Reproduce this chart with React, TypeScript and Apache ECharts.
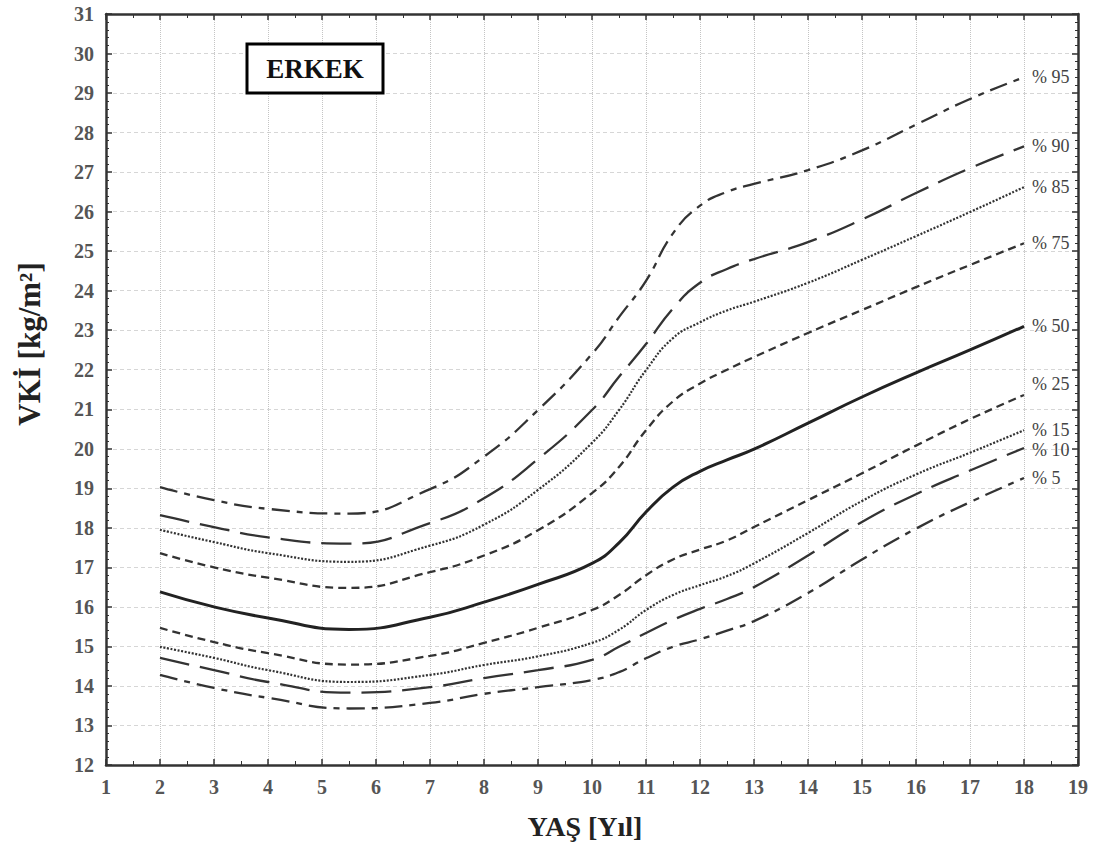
import React, { useEffect, useRef } from "react";
import * as echarts from "echarts";

const ages = [2, 3, 4, 5.5, 7, 8, 9, 10, 10.5, 11, 11.5, 12, 12.5, 13, 14, 15, 16, 17, 18];
const p95 = [19.03, 18.7, 18.48, 18.36, 18.98, 19.8, 20.98, 22.4, 23.33, 24.25, 25.45, 26.15, 26.5, 26.7, 27.05, 27.55, 28.2, 28.85, 29.4];
const p90 = [18.32, 18.02, 17.76, 17.6, 18.12, 18.75, 19.74, 20.98, 21.82, 22.65, 23.55, 24.2, 24.55, 24.8, 25.23, 25.8, 26.47, 27.1, 27.65];
const p85 = [17.95, 17.64, 17.36, 17.14, 17.55, 18.08, 18.96, 20.15, 20.98, 21.99, 22.8, 23.2, 23.5, 23.72, 24.2, 24.78, 25.38, 25.99, 26.62];
const p75 = [17.36, 17.0, 16.74, 16.48, 16.88, 17.3, 17.94, 18.88, 19.54, 20.47, 21.2, 21.65, 22.0, 22.32, 22.93, 23.51, 24.09, 24.65, 25.2];
const p50 = [16.38, 16.0, 15.72, 15.43, 15.74, 16.12, 16.57, 17.1, 17.62, 18.4, 19.03, 19.43, 19.72, 19.99, 20.65, 21.31, 21.92, 22.5, 23.1];
const p25 = [15.47, 15.11, 14.83, 14.54, 14.76, 15.09, 15.47, 15.92, 16.3, 16.8, 17.2, 17.45, 17.68, 18.02, 18.7, 19.38, 20.08, 20.75, 21.36];
const p15 = [14.99, 14.71, 14.4, 14.1, 14.28, 14.53, 14.75, 15.09, 15.42, 15.92, 16.3, 16.55, 16.78, 17.1, 17.87, 18.68, 19.35, 19.9, 20.47];
const p10 = [14.71, 14.4, 14.1, 13.83, 13.97, 14.2, 14.4, 14.66, 14.99, 15.34, 15.67, 15.95, 16.2, 16.5, 17.3, 18.15, 18.85, 19.45, 20.02];
const p5 = [14.28, 13.95, 13.7, 13.43, 13.57, 13.8, 13.97, 14.15, 14.35, 14.7, 14.99, 15.18, 15.4, 15.64, 16.35, 17.2, 17.98, 18.65, 19.26];

const curveNames = ["% 95", "% 90", "% 85", "% 75", "% 50", "% 25", "% 15", "% 10", "% 5"];
const curveValues = [p95, p90, p85, p75, p50, p25, p15, p10, p5];

const xMin = 1, xMax = 19, yMin = 12, yMax = 31;
const FONT = "'Liberation Serif', 'DejaVu Serif', serif";

const dashDot = [18, 7, 6, 7];
const longDash = [30, 11];
const dotted = [2, 1.6];
const shortDash = [8, 5];
const styles: any[] = [
  { type: dashDot, width: 2.3 },
  { type: longDash, width: 2.3 },
  { type: dotted, width: 2.2 },
  { type: shortDash, width: 2.3 },
  { type: "solid", width: 3 },
  { type: shortDash, width: 2.3 },
  { type: dotted, width: 2.2 },
  { type: longDash, width: 2.3 },
  { type: dashDot, width: 2.3 },
];
const labelOffsets: number[][] = [[0, 0], [0, 0], [0, 0], [0, 0], [0, 0], [0, -11], [0, 0], [0, 2], [0, 0]];

export default function App() {
  const ref = useRef<HTMLDivElement>(null);
  useEffect(() => {
    if (!ref.current) return;
    const chart = echarts.init(ref.current, undefined, { renderer: "svg" });
    const axisLineStyle = { color: "#333", width: 2.5 };
    const series = curveValues.map((vals, i) => ({
      name: curveNames[i],
      type: "line",
      xAxisIndex: 0,
      yAxisIndex: 0,
      symbol: "none",
      smooth: 0.5,
      data: ages.map((a, j) => [a, vals[j]]),
      lineStyle: { color: i === 4 ? "#222" : "#333", width: styles[i].width, type: styles[i].type },
      endLabel: {
        show: true,
        formatter: curveNames[i],
        fontFamily: FONT,
        fontSize: 18,
        color: "#444",
        distance: 8,
        offset: labelOffsets[i],
      },
      emphasis: { disabled: true },
    }));
    chart.setOption({
      animation: false,
      backgroundColor: "#fff",
      grid: { left: 106, right: 16, top: 14, bottom: 78, containLabel: false },
      xAxis: [
        {
          type: "value",
          min: xMin,
          max: xMax,
          interval: 1,
          axisLine: { show: true, lineStyle: axisLineStyle },
          axisTick: { show: true, inside: true, length: 6, lineStyle: { color: "#333", width: 1.5 } },
          minorTick: { show: true, splitNumber: 2, length: 4, lineStyle: { color: "#333" } },
          axisLabel: { fontFamily: FONT, fontSize: 20, fontWeight: "bold", color: "#555", margin: 12 },
          splitLine: { show: true, lineStyle: { color: "#c4c4c4", type: "dotted", width: 1 } },
        },
        {
          type: "value",
          position: "top",
          min: xMin,
          max: xMax,
          interval: 1,
          axisLine: { show: true, lineStyle: axisLineStyle },
          axisTick: { show: true, inside: true, length: 6, lineStyle: { color: "#333", width: 1.5 } },
          minorTick: { show: true, splitNumber: 2, length: 4, lineStyle: { color: "#333" } },
          axisLabel: { show: false },
          splitLine: { show: false },
        },
      ],
      yAxis: [
        {
          type: "value",
          min: yMin,
          max: yMax,
          interval: 1,
          axisLine: { show: true, lineStyle: axisLineStyle },
          axisTick: { show: true, inside: true, length: 6, lineStyle: { color: "#333", width: 1.5 } },
          minorTick: { show: true, splitNumber: 5, length: 3, lineStyle: { color: "#333" } },
          axisLabel: { fontFamily: FONT, fontSize: 20, fontWeight: "bold", color: "#555", margin: 12 },
          splitLine: { show: true, lineStyle: { color: "#d6d6d6", type: [4, 3], width: 1 } },
        },
        {
          type: "value",
          position: "right",
          min: yMin,
          max: yMax,
          interval: 1,
          axisLine: { show: true, lineStyle: axisLineStyle },
          axisTick: { show: true, inside: true, length: 6, lineStyle: { color: "#333", width: 1.5 } },
          minorTick: { show: true, splitNumber: 5, length: 3, lineStyle: { color: "#333" } },
          axisLabel: { show: false },
          splitLine: { show: false },
        },
      ],
      series,
      graphic: [
        {
          type: "rect",
          shape: { x: 247, y: 44, width: 136, height: 49 },
          style: { fill: "#fff", stroke: "#000", lineWidth: 3 },
          z: 10,
        },
        {
          type: "text",
          x: 315,
          y: 69,
          style: {
            text: "ERKEK",
            font: `bold 27px ${FONT}`,
            fill: "#111",
            textAlign: "center",
            textVerticalAlign: "middle",
          },
          z: 11,
        },
        {
          type: "text",
          x: 585,
          y: 826,
          style: {
            text: "YAŞ [Yıl]",
            font: `bold 28px ${FONT}`,
            fill: "#222",
            textAlign: "center",
            textVerticalAlign: "middle",
          },
        },
        {
          type: "text",
          x: 29,
          y: 344,
          rotation: Math.PI / 2,
          style: {
            text: "VKİ [kg/m²]",
            font: `bold 31px ${FONT}`,
            fill: "#222",
            textAlign: "center",
            textVerticalAlign: "middle",
          },
        },
      ],
    });
    return () => chart.dispose();
  }, []);
  return (
    <div
      ref={ref}
      style={{ position: "fixed", left: 0, top: 0, width: 1094, height: 843, background: "#fff" }}
    />
  );
}
